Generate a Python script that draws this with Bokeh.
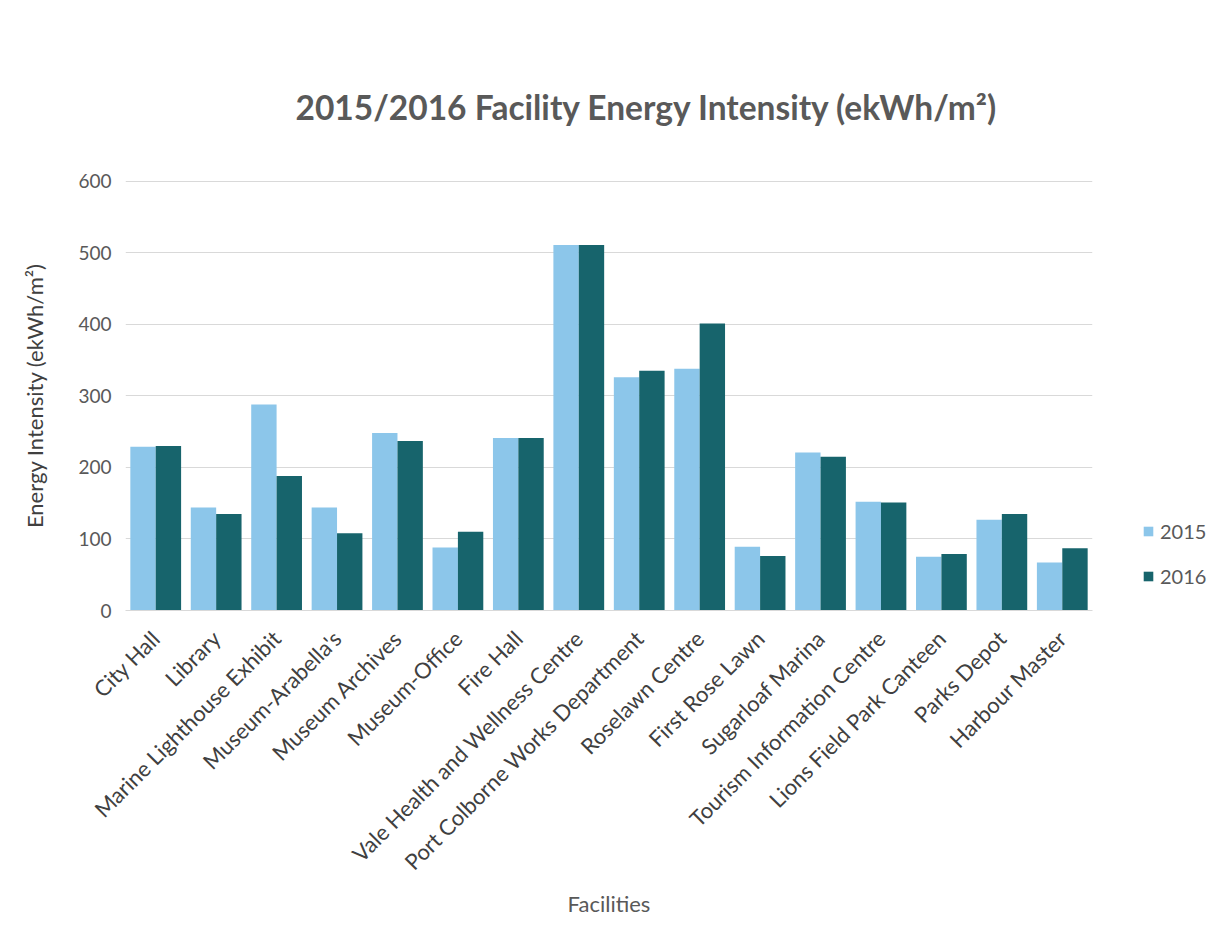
from bokeh.plotting import figure
from bokeh.models import ColumnDataSource, FactorRange, Legend, LegendItem
from bokeh.transform import dodge
from bokeh.embed import file_html
from bokeh.resources import INLINE
import math

facilities = ["City Hall", "Library", "Marine Lighthouse Exhibit", "Museum-Arabella's",
              "Museum Archives", "Museum-Office", "Fire Hall", "Vale Health and Wellness Centre",
              "Port Colborne Works Department", "Roselawn Centre", "First Rose Lawn",
              "Sugarloaf Marina", "Tourism Information Centre", "Lions Field Park Canteen",
              "Parks Depot", "Harbour Master"]
v2015 = [229, 144, 288, 144, 248, 88, 241, 511, 326, 338, 89, 221, 152, 75, 127, 67]
v2016 = [230, 135, 188, 108, 237, 110, 241, 511, 335, 401, 76, 215, 151, 79, 135, 87]
y_ticks = [0, 100, 200, 300, 400, 500, 600]

FONT = "Lato"
C2015 = "#8CC6EA"
C2016 = "#17646C"

src = ColumnDataSource(dict(fac=facilities, a=v2015, b=v2016))

p = figure(frame_width=967, frame_height=430, output_backend="svg", toolbar_location=None,
           x_range=FactorRange(*facilities, range_padding=0), y_range=(0, 601),
           min_border_left=125, min_border_right=122, min_border_top=180, min_border_bottom=320,
           title="2015/2016 Facility Energy Intensity (ekWh/m²)")
p.outline_line_color = None

p.title.align = "left"
p.title.text_font = FONT
p.title.text_font_size = "33.5px"
p.title.text_font_style = "bold"
p.title.text_color = "#595959"
p.title.standoff = 108
p.title.offset = 170

r1 = p.vbar(x=dodge("fac", -0.21, range=p.x_range), top="a", width=0.42, source=src,
            fill_color=C2015, line_color=None)
r2 = p.vbar(x=dodge("fac", 0.21, range=p.x_range), top="b", width=0.42, source=src,
            fill_color=C2016, line_color=None)

p.xgrid.grid_line_color = None
p.ygrid.grid_line_color = "#D9D9D9"
p.ygrid.ticker = y_ticks
p.yaxis.ticker = y_ticks
p.yaxis.axis_line_color = None
p.yaxis.major_tick_line_color = None
p.yaxis.minor_tick_line_color = None
p.yaxis.major_label_text_font = FONT
p.yaxis.major_label_text_font_size = "19px"
p.yaxis.major_label_text_color = "#595959"
p.yaxis.major_label_standoff = 8
p.yaxis.axis_label = "Energy Intensity (ekWh/m²)"
p.yaxis.axis_label_text_font = FONT
p.yaxis.axis_label_text_font_size = "22px"
p.yaxis.axis_label_text_font_style = "normal"
p.yaxis.axis_label_text_color = "#404040"
p.yaxis.axis_label_standoff = 27

p.xaxis.axis_line_color = "#D9D9D9"
p.xaxis.major_tick_line_color = None
p.xaxis.minor_tick_line_color = None
p.xaxis.major_label_orientation = math.pi / 4
p.xaxis.major_label_text_font = FONT
p.xaxis.major_label_text_font_size = "22px"
p.xaxis.major_label_text_color = "#404040"
p.xaxis.major_label_standoff = 18
p.xaxis.axis_label = "Facilities"
p.xaxis.axis_label_text_font = FONT
p.xaxis.axis_label_text_font_size = "22px"
p.xaxis.axis_label_text_font_style = "normal"
p.xaxis.axis_label_text_color = "#595959"
p.xaxis.axis_label_standoff = 3

legend = Legend(items=[LegendItem(label="2015", renderers=[r1]),
                       LegendItem(label="2016", renderers=[r2])],
                location=(50, 22), orientation="vertical",
                glyph_width=12, glyph_height=12, label_height=22, spacing=21,
                padding=0, margin=0, border_line_color=None, background_fill_alpha=0,
                label_text_font=FONT, label_text_font_size="20px", label_text_color="#595959",
                label_standoff=6)
p.add_layout(legend, "right")

open("out.html", "w").write(file_html(p, INLINE))
